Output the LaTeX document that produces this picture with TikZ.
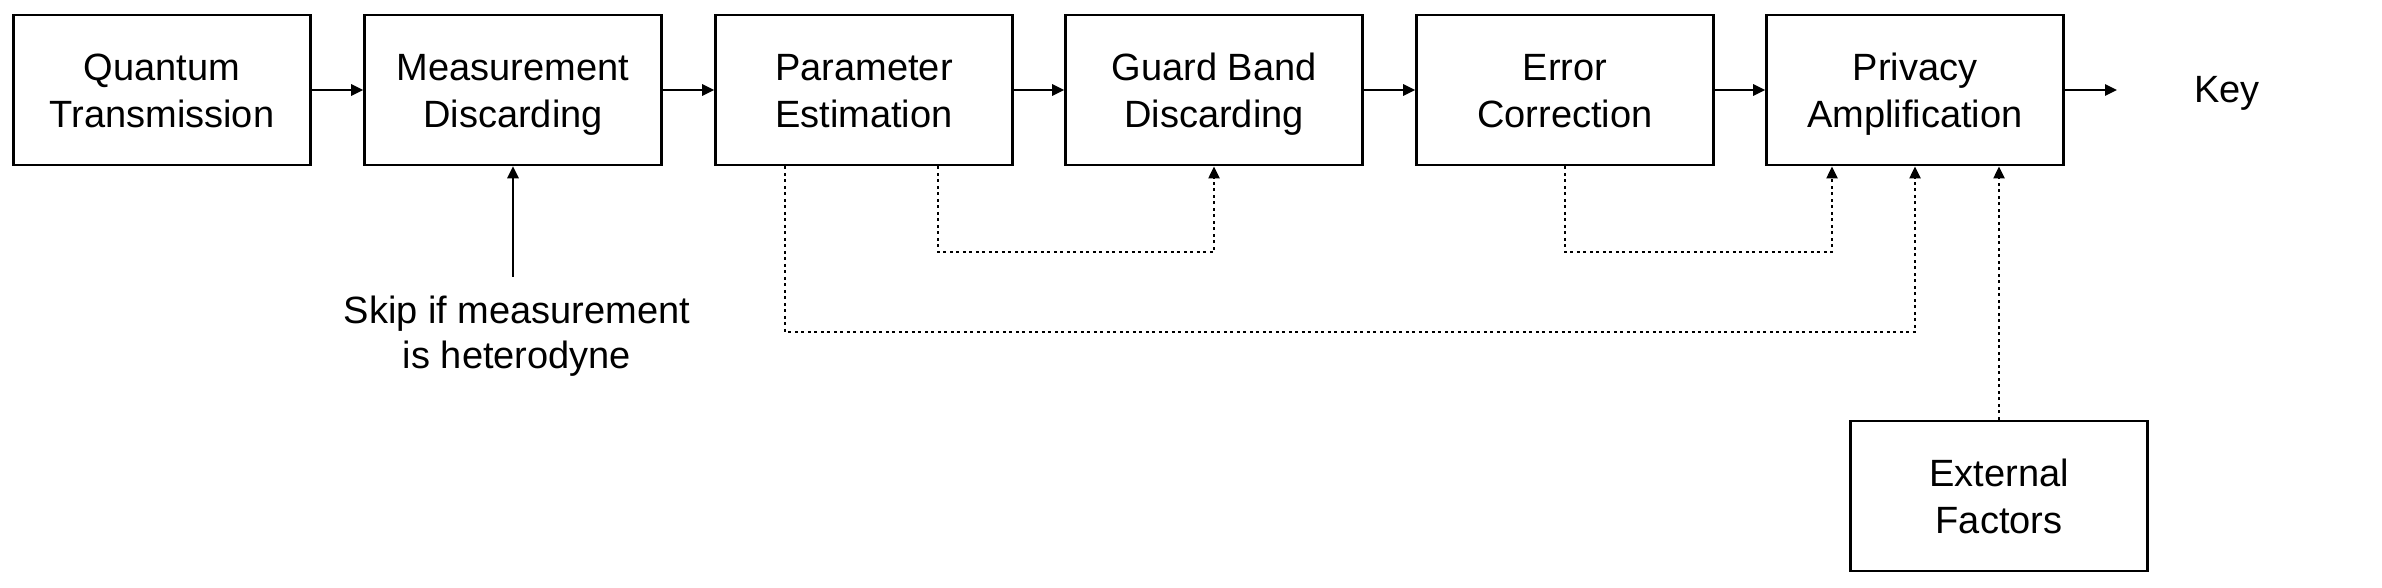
\documentclass[tikz,border=0pt]{standalone}
\usepackage{fontspec}
\setmainfont{Liberation Sans}
\usetikzlibrary{arrows.meta}
\newcommand\bxs{\rule[-2.8pt]{0pt}{14pt}}
\begin{document}
\begin{tikzpicture}[x=0.3pt,y=-0.3pt,
  stage/.style={draw,line width=0.8pt,minimum width=89.1pt,minimum height=45pt,align=center,inner sep=0pt,font=\fontsize{11.4}{14}\selectfont},
  lbl/.style={align=center,inner sep=0pt,font=\fontsize{11.4}{13.6}\selectfont},
  flow/.style={line width=0.6pt,-{Triangle[length=3.6pt,width=3.4pt]}},
  dotflow/.style={line width=0.85pt,dash pattern=on 0.9pt off 1.05pt,-{Triangle[length=3.6pt,width=3.2pt]}}]
\useasboundingbox (0,0) rectangle (2382,588);
\node[stage] (qt) at (162,90) {\bxs Quantum\\\bxs Transmission};
\node[stage] (md) at (513,90) {\bxs Measurement\\\bxs Discarding};
\node[stage] (pe) at (864,90) {\bxs Parameter\\\bxs Estimation};
\node[stage] (gb) at (1214,90) {\bxs Guard Band\\\bxs Discarding};
\node[stage] (ec) at (1565,90) {\bxs Error\\\bxs Correction};
\node[stage] (pa) at (1915,90) {\bxs Privacy\\\bxs Amplification};
\node[stage] (ef) at (1999,496) {\bxs External\\\bxs Factors};
\node[lbl,anchor=base] (key) at (2227,103) {Key};
\node[lbl] (skip) at (517,336) {Skip if measurement\\is heterodyne};
\coordinate (keyend) at (2117,90);
\coordinate (skipstart) at (513,277);
\coordinate (c1) at (1100,252);
\coordinate (c2) at (1300,332);
\coordinate (c3) at (1700,252);
\draw[flow] (qt) -- (md);
\draw[flow] (md) -- (pe);
\draw[flow] (pe) -- (gb);
\draw[flow] (gb) -- (ec);
\draw[flow] (ec) -- (pa);
\draw[flow] (pa) -- (keyend);
\draw[flow] (skipstart) -- (md.south);
\draw[dotflow] ([xshift=22.2pt]pe.south) |- (c1) -| (gb.south);
\draw[dotflow] ([xshift=-23.7pt]pe.south) |- (c2) -| (pa.south);
\draw[dotflow] (ec.south) |- (c3) -| ([xshift=-24.9pt]pa.south);
\draw[dotflow] (ef.north) -- (ef.north |- pa.south);
\end{tikzpicture}
\end{document}
